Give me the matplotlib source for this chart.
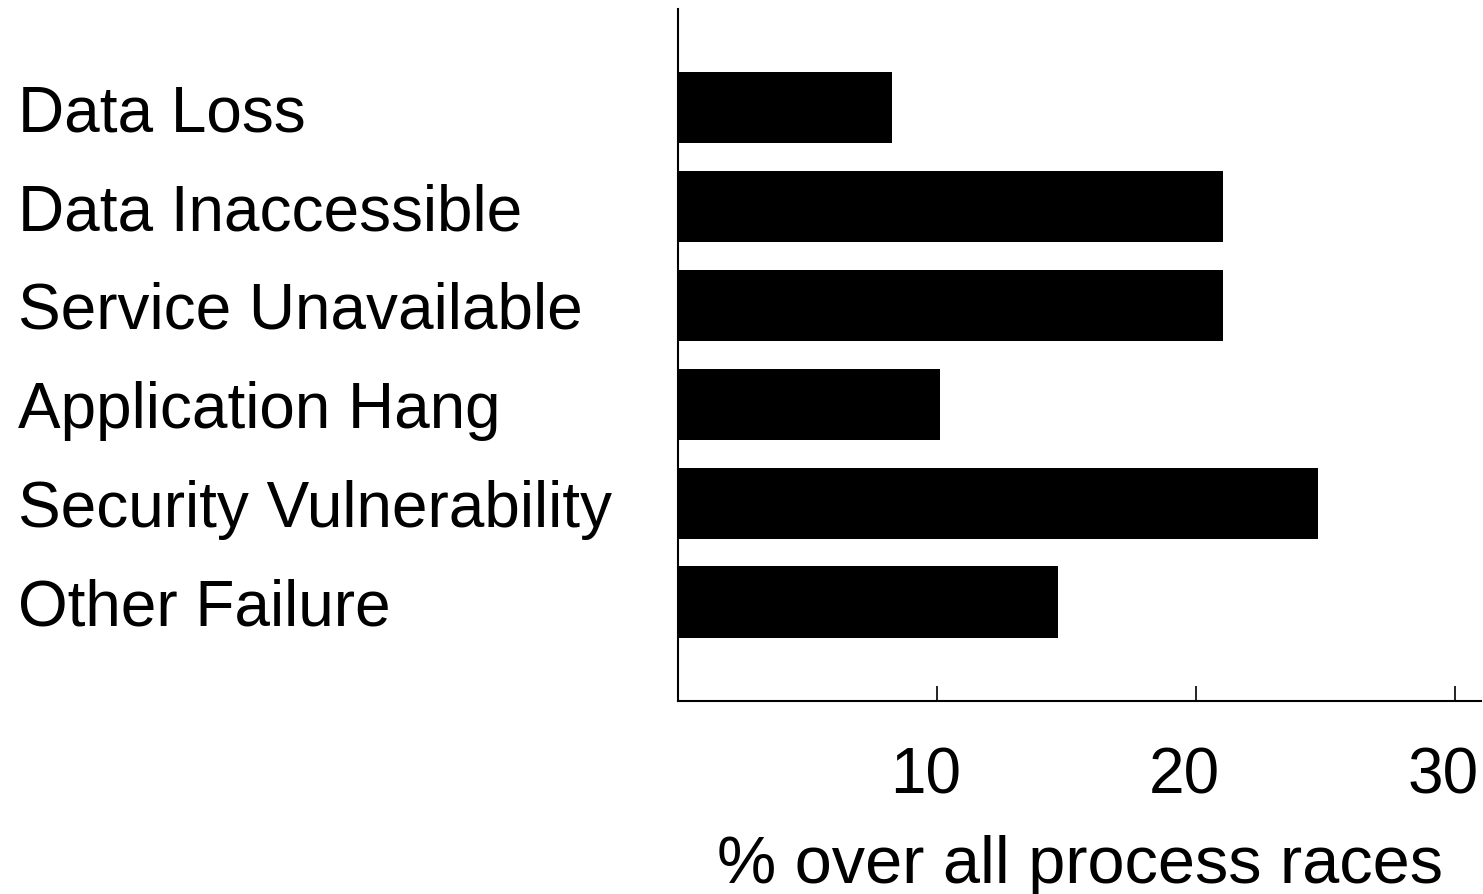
import matplotlib
matplotlib.use('Agg')
import matplotlib.pyplot as plt
import matplotlib.transforms as mtransforms

plt.rcParams['font.family'] = ['Liberation Sans', 'DejaVu Sans']

# 失败类型及占比
categories = ['Data Loss', 'Data Inaccessible', 'Service Unavailable',
              'Application Hang', 'Security Vulnerability', 'Other Failure']
values = [8.25, 21.05, 21.05, 10.1, 24.7, 14.65]
xticks = [10, 20, 30]

fig = plt.figure(figsize=(14.83, 8.94), dpi=100)
ax = fig.add_axes([0.4575, 0.216, 0.5412, 0.774])

pos = list(range(len(categories)))
ax.barh(pos, values, height=0.72, color='black')

ax.set_ylim(len(categories), -1)
ax.set_xlim(0, 31)

# 只保留左边和下边的轴线
for s in ['top', 'right']:
    ax.spines[s].set_visible(False)
for s in ['left', 'bottom']:
    ax.spines[s].set_linewidth(1.5)

ax.set_xticks(xticks)
ax.set_xticklabels([str(t) for t in xticks], fontsize=46)
ax.tick_params(axis='x', direction='in', length=11, width=1.2, pad=33)
offset = mtransforms.ScaledTranslation(-12 / 100, 0, fig.dpi_scale_trans)
for lab in ax.get_xticklabels():
    lab.set_transform(lab.get_transform() + offset)

ax.set_yticks(pos)
ax.set_yticklabels(categories, fontsize=46, ha='left')
ax.tick_params(axis='y', length=0, pad=(678.5 - 18) * 72 / 100)

ax.set_xlabel('% over all process races', fontsize=48, labelpad=20)

fig.savefig('out.png', dpi=100)
